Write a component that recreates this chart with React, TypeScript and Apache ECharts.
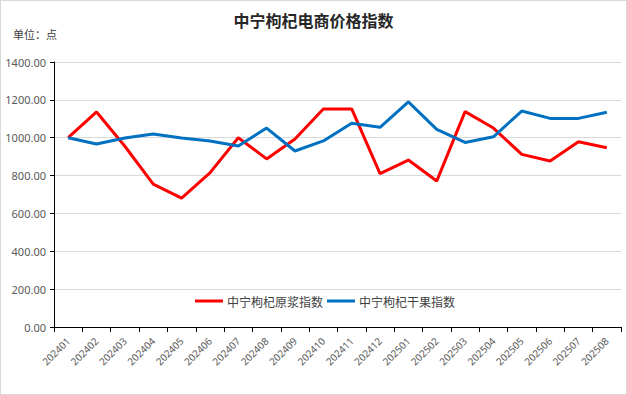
import React, { useEffect, useRef } from "react";
import * as echarts from "echarts";

const categories = [
  "202401", "202402", "202403", "202404", "202405", "202406", "202407", "202408", "202409", "202410",
  "202411", "202412", "202501", "202502", "202503", "202504", "202505", "202506", "202507", "202508",
];
const yuanjiang = [1000, 1136, 955, 755, 681, 814, 1000, 888, 993, 1152, 1152, 810, 882, 771, 1138, 1051, 912, 877, 979, 947];
const ganguo = [1000, 967, 998, 1020, 998, 983, 956, 1051, 930, 983, 1076, 1055, 1189, 1044, 975, 1005, 1141, 1102, 1102, 1135];
const yTicks = { min: 0, max: 1400, interval: 200 };

export default function App() {
  const ref = useRef<HTMLDivElement>(null);
  useEffect(() => {
    if (!ref.current) return;
    const chart = echarts.init(ref.current, null, { renderer: "svg" });
    chart.setOption({
      animation: false,
      backgroundColor: "#fff",
      title: [
        {
          text: "中宁枸杞电商价格指数",
          left: "center",
          top: 6,
          textStyle: { fontFamily: "Noto Sans CJK SC", fontWeight: "bold", fontSize: 16, color: "#262626" },
        },
        {
          text: "单位：点",
          left: 7,
          top: 22,
          textStyle: { fontFamily: "Noto Sans CJK SC", fontWeight: "normal", fontSize: 11, color: "#404040" },
        },
      ],
      legend: {
        left: 189,
        top: 289,
        itemWidth: 28,
        itemHeight: 3,
        itemGap: 4,
        icon: "rect",
        textStyle: { fontFamily: "Noto Sans CJK SC", fontSize: 12, color: "#404040", padding: [0, 0, 0, -1] },
        data: ["中宁枸杞原浆指数", "中宁枸杞干果指数"],
      },
      grid: { left: 53, right: 5, top: 61, bottom: 67, containLabel: false },
      xAxis: {
        type: "category",
        data: categories,
        boundaryGap: true,
        axisLine: { lineStyle: { color: "#000", width: 1 } },
        axisTick: { show: true, alignWithLabel: false, length: 5, lineStyle: { color: "#000" } },
        axisLabel: { rotate: 45, fontSize: 10, color: "#595959", fontFamily: "Noto Sans", margin: 12, interval: 0 },
        splitLine: { show: false },
      },
      yAxis: {
        type: "value",
        min: yTicks.min,
        max: yTicks.max,
        interval: yTicks.interval,
        axisLine: { show: true, lineStyle: { color: "#000", width: 1 } },
        axisTick: { show: true, length: 4, lineStyle: { color: "#000" } },
        axisLabel: {
          fontSize: 11,
          color: "#595959",
          fontFamily: "Noto Sans",
          margin: 8,
          formatter: (v: number) => v.toFixed(2),
        },
        splitLine: { lineStyle: { color: "#d9d9d9", width: 1 } },
      },
      series: [
        {
          name: "中宁枸杞原浆指数",
          type: "line",
          data: yuanjiang,
          symbol: "none",
          lineStyle: { color: "#ff0000", width: 3 },
          itemStyle: { color: "#ff0000" },
        },
        {
          name: "中宁枸杞干果指数",
          type: "line",
          data: ganguo,
          symbol: "none",
          lineStyle: { color: "#0070c0", width: 3 },
          itemStyle: { color: "#0070c0" },
        },
      ],
    });
    return () => chart.dispose();
  }, []);
  return (
    <div style={{ position: "fixed", left: 0, top: 0, width: 627, height: 395, boxSizing: "border-box", border: "1px solid #d9d9d9", background: "#fff" }}>
      <div ref={ref} style={{ width: 625, height: 393 }} />
    </div>
  );
}
